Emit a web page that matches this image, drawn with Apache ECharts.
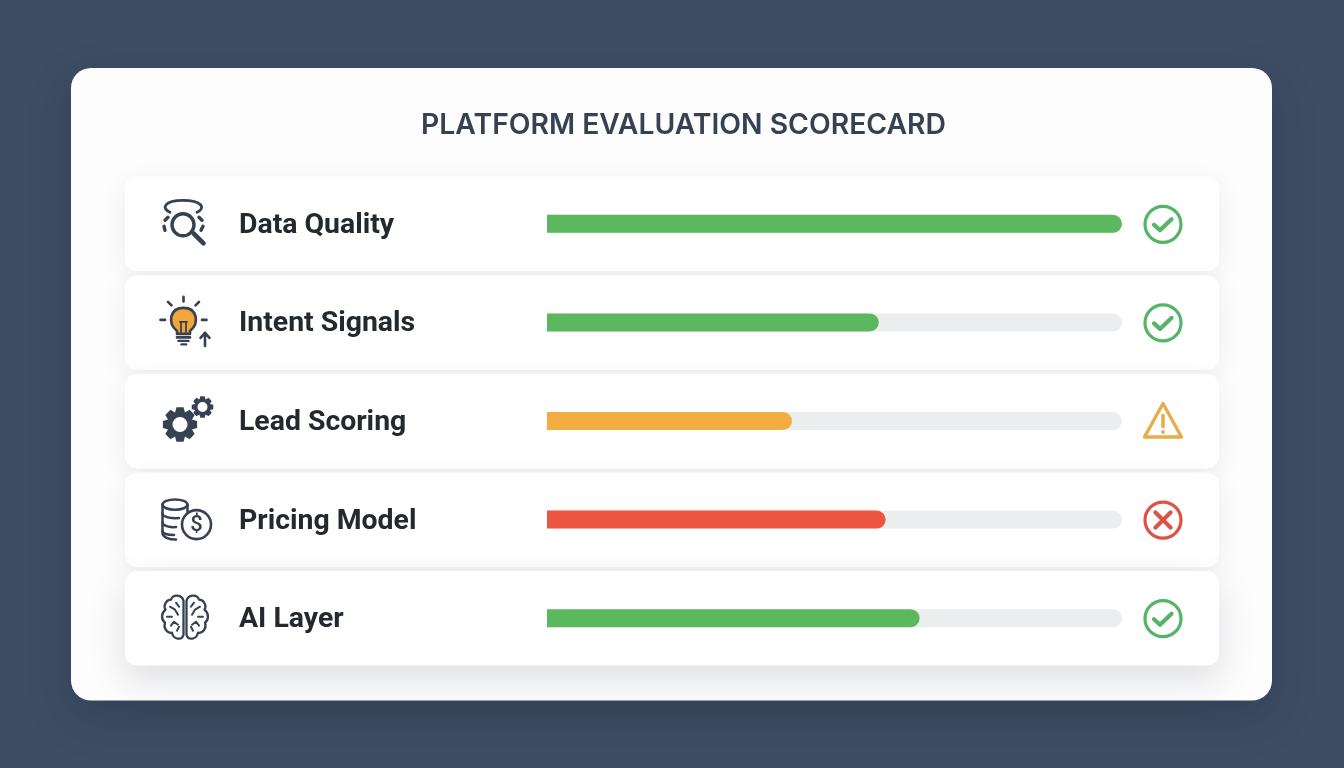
<!DOCTYPE html>
<html>
<head>
<meta charset="utf-8">
<style>html,body{margin:0;padding:0;background:#3d4c63}#c{width:1344px;height:768px}</style>
<script src="https://cdn.jsdelivr.net/npm/echarts@6/dist/echarts.min.js"></script>
</head>
<body>
<div id="c"></div>
<script>
const chartTitle = 'PLATFORM EVALUATION SCORECARD';
const categories = ['Data Quality', 'Intent Signals', 'Lead Scoring', 'Pricing Model', 'AI Layer'];
const scores = [100, 57.7, 42.6, 58.9, 64.8];
const statuses = ['ok', 'ok', 'warn', 'bad', 'ok'];
const iconNames = ['data', 'bulb', 'gears', 'coins', 'brain'];
const barColors = { ok: '#5cb85f', warn: '#f2ad40', bad: '#ec5640' };
const statusColors = { ok: '#55b468', warn: '#e9ac4c', bad: '#dd5147' };

const INK = '#364253';
const chart = echarts.init(document.getElementById('c'));

const line = (d, w, color) => ({
  type: 'path', shape: { pathData: d },
  style: { fill: 'none', stroke: color || INK, lineWidth: w || 2.5, lineCap: 'round', lineJoin: 'round' }
});
const ring = (cx, cy, r, w, color, fill) => ({
  type: 'circle', shape: { cx, cy, r },
  style: { fill: fill || 'none', stroke: color || INK, lineWidth: w }
});

function gearPath(cx, cy, rOut, rIn, teeth) {
  const pts = [];
  const step = Math.PI * 2 / teeth;
  for (let i = 0; i < teeth; i++) {
    const a = i * step - Math.PI / 2;
    [[-0.5, rIn], [-0.26, rOut], [0.26, rOut], [0.5, rIn]].forEach(([k, r]) => {
      pts.push((cx + r * Math.cos(a + k * step)).toFixed(2) + ' ' + (cy + r * Math.sin(a + k * step)).toFixed(2));
    });
  }
  return 'M' + pts.join('L') + 'Z';
}

const icons = {
  data: () => [
    line('M-15,-11 C-24,-15 -21,-23 -2,-23 C17,-23 21,-15 12,-11', 2.8),
    ring(-2, 1.5, 11, 3.4),
    line('M9,10.5 L18.5,20', 4.6),
    line('M-17,-6 L-20,-3', 3.4), line('M-21,3 L-20,7', 3.4),
    line('M14,-6 L17,-3', 3.4), line('M18,3 L16,7', 3.4)
  ],
  bulb: () => [
    { type: 'path', shape: { pathData: 'M-8,9 C-18,1 -15,-14 -1.5,-14 C12,-14 15,1 5,9 L5,12 L-8,12 Z' }, style: { fill: '#f0a63c', stroke: INK, lineWidth: 2.6, lineJoin: 'round' } },
    line('M-4,10 L-4,0 M1,10 L1,0 M-5,0 L2,0', 1.8),
    line('M-8,15.5 L5,15.5', 2.6), line('M-6.5,19 L3.5,19', 2.4), line('M-3.5,22.5 L1,22.5', 2.4),
    line('M-1.5,-25 L-1.5,-20.5', 2.6), line('M-17,-20 L-13.5,-16.5', 2.6), line('M14,-20 L10.5,-16.5', 2.6),
    line('M-24.5,-2 L-20,-2', 2.6), line('M17,-2 L21.5,-2', 2.6),
    line('M20,24 L20,11 M15.5,16 L20,11 L24.5,16', 2.6)
  ],
  gears: () => [
    { type: 'path', shape: { pathData: gearPath(-5, 4, 17.5, 13, 8) + 'M2.5 4A7.5 7.5 0 1 0 -12.5 4A7.5 7.5 0 1 0 2.5 4Z' }, style: { fill: INK, fillRule: 'evenodd' } },
    { type: 'path', shape: { pathData: gearPath(17.5, -13.5, 11, 8, 8) + 'M22.5 -13.5A5 5 0 1 0 12.5 -13.5A5 5 0 1 0 22.5 -13.5Z' }, style: { fill: INK, fillRule: 'evenodd' } }
  ],
  coins: () => [
    { type: 'ellipse', shape: { cx: -10, cy: -14.5, rx: 12.5, ry: 5.2 }, style: { fill: 'none', stroke: INK, lineWidth: 2.5 } },
    line('M-22.5,-14.5 L-22.5,14 C-22.5,18 -16,20.5 -9,20.5', 2.5),
    line('M2.5,-14.5 L2.5,-7', 2.5),
    line('M-22.5,-5.5 C-22.5,-2 -14,-0.5 -6,-1', 2.5),
    line('M-22.5,3.5 C-22.5,7 -14,8.5 -9,8', 2.5),
    line('M-22.5,12 C-22.5,15 -16,16 -11,16', 2.5),
    ring(11.5, 5.5, 14.5, 2.6),
    { type: 'text', style: { text: '$', x: 11.5, y: 6, align: 'center', verticalAlign: 'middle', fontFamily: 'Roboto', fontSize: 22, fontWeight: 500, fill: INK } }
  ],
  brain: () => {
    const half = 'M-1.5,-17 C-3,-23 -12,-24 -14,-18 C-19,-18 -22,-12 -19.5,-8 C-24,-5 -24,2 -20,5 C-22,10 -18,16 -13,15 C-12,22 -3,23 -1.5,17 Z';
    const veins = 'M-15,-11 L-10,-8 L-7,-3 M-9,-15 L-6,-11 M-18,-1 L-13,-1 M-7,7 L-11,4 L-14,8 M-8,13 L-6,9';
    return [
      line(half, 2.3), line(veins, 2),
      { type: 'group', scaleX: -1, x: 0, children: [line(half, 2.3), line(veins, 2)] }
    ];
  }
};

const statusIcons = {
  ok: c => [ring(0, 0, 18, 3.2, c), line('M-9,0.5 L-3,6 L8.5,-5', 4.2, c)],
  bad: c => [ring(0, 0, 18, 3.2, c), line('M-7.5,-7.5 L7.5,7.5 M7.5,-7.5 L-7.5,7.5', 4.2, c)],
  warn: c => [
    line('M0,-18 L-18.5,15.5 L18.5,15.5 Z', 3.4, c),
    line('M0,-6 L0,5', 3.6, c),
    ring(0, 10.5, 1, 1.8, c, c)
  ]
};

const rowIndex = categories.map((c, i) => [0, i]);

chart.setOption({
  animation: false,
  backgroundColor: '#3e4d64',
  title: {
    text: chartTitle, left: 678.5, textAlign: 'center', top: 106,
    textStyle: { fontFamily: 'Inter', fontSize: 28.3, fontWeight: 600, color: '#364253' }
  },
  graphic: [{
    type: 'rect', z: 0, silent: true,
    shape: { x: 71, y: 68, width: 1201, height: 632.5, r: 20 },
    style: { fill: '#fdfdfd', shadowBlur: 44, shadowColor: 'rgba(20,28,42,0.22)', shadowOffsetY: 16 }
  }],
  grid: { left: 547, right: 222, top: 174.5, bottom: 768 - 667.5 },
  xAxis: { type: 'value', min: 0, max: 100, show: false },
  yAxis: {
    type: 'category', data: categories, inverse: true, z: 6,
    axisLine: { show: false }, axisTick: { show: false }, splitLine: { show: false },
    axisLabel: {
      interval: 0, align: 'left', margin: 308, verticalAlign: 'top', lineHeight: 4,
      fontFamily: 'Roboto', fontSize: 28.4, fontWeight: 700, color: '#24292f'
    }
  },
  series: [
    {
      type: 'custom', z: 1, silent: true, data: rowIndex,
      renderItem: (p, api) => {
        const i = api.value(1);
        const y = api.coord([0, i])[1];
        const last = i === categories.length - 1;
        return {
          type: 'rect', shape: { x: 125, y: y - 47.2, width: 1094, height: 94.6, r: 12 },
          style: {
            fill: '#ffffff', shadowBlur: last ? 36 : 24,
            shadowColor: last ? 'rgba(40,50,70,0.15)' : 'rgba(40,50,70,0.08)',
            shadowOffsetY: last ? 14 : 6
          }
        };
      }
    },
    {
      type: 'bar', z: 2, barWidth: 18, silent: true,
      data: scores.map((v, i) => ({ value: v, itemStyle: { color: barColors[statuses[i]] } })),
      showBackground: true,
      backgroundStyle: { color: '#ecedef', borderRadius: [0, 9, 9, 0] },
      itemStyle: { borderRadius: [0, 9, 9, 0] }
    },
    {
      type: 'custom', z: 3, silent: true, data: rowIndex,
      renderItem: (p, api) => {
        const i = api.value(1);
        const y = api.coord([0, i])[1];
        return { type: 'group', x: 185, y: y - 0.5, children: icons[iconNames[i]]() };
      }
    },
    {
      type: 'custom', z: 3, silent: true, data: rowIndex,
      renderItem: (p, api) => {
        const i = api.value(1);
        const y = api.coord([0, i])[1];
        const s = statuses[i];
        return { type: 'group', x: 1163, y: y + 0.5, children: statusIcons[s](statusColors[s]) };
      }
    }
  ]
});
</script>
</body>
</html>
